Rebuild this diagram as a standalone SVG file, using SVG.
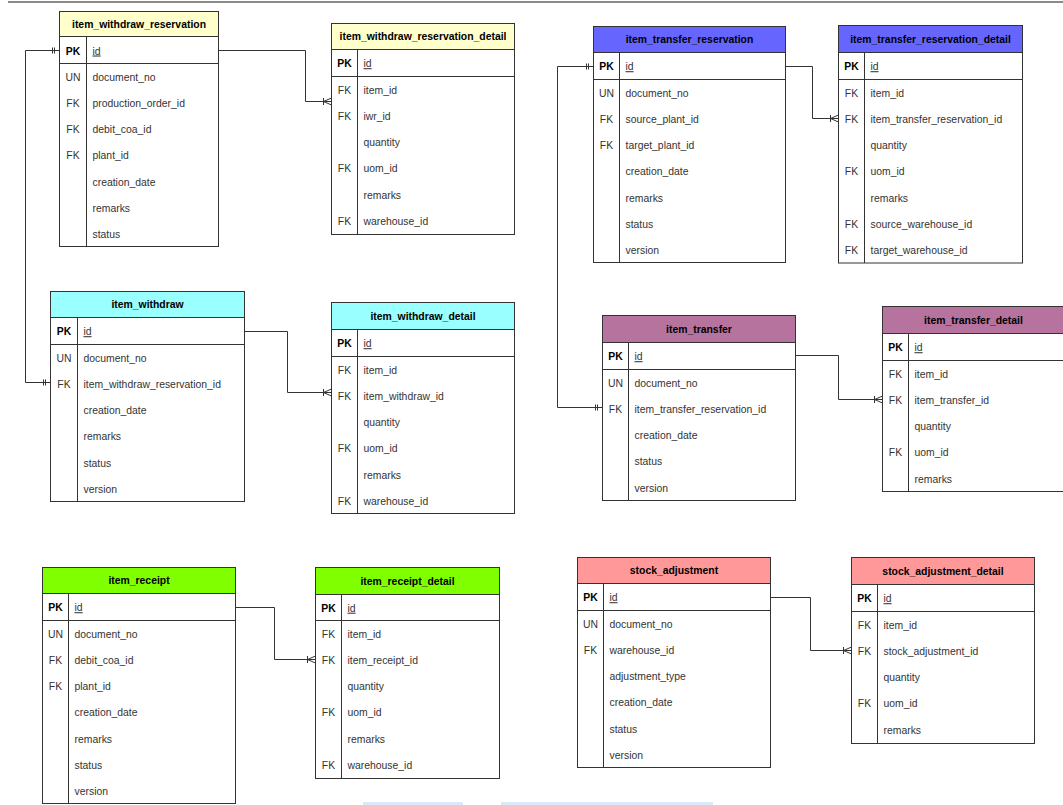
<svg xmlns="http://www.w3.org/2000/svg" width="1063" height="805" viewBox="0 0 1063 805">
<style>
.body{fill:#fff;stroke:#333;stroke-width:1}
.hdr{stroke:#333;stroke-width:1}
.sep{stroke:#333;stroke-width:1;fill:none}
text{font-family:"Liberation Sans",Arial,Helvetica,sans-serif;font-size:10.4px;fill:#333}
.h{font-weight:bold;fill:#000;text-anchor:middle}
.k{text-anchor:middle}
.pk{font-weight:bold;fill:#000}
.u{text-decoration:underline}
.conn{fill:none;stroke:#333;stroke-width:1}
.mk{fill:none;stroke:#333;stroke-width:1}
</style>
<defs>
<marker id="many" viewBox="0 0 12 10" markerWidth="12" markerHeight="10" refX="12" refY="5" orient="auto" markerUnits="userSpaceOnUse"><path class="mk" d="M12,1.5 L4,5 L12,8.5 M4,1.5 V8.5"/></marker>
<marker id="one" viewBox="0 0 10 10" markerWidth="10" markerHeight="10" refX="10" refY="5" orient="auto-start-reverse" markerUnits="userSpaceOnUse"><path class="mk" d="M3,2 V8 M5,2 V8"/></marker>
</defs>
<rect x="0" y="0" width="1063" height="805" fill="#fff"/>
<line x1="8" y1="2" x2="1063" y2="2" stroke="#8a8a8a" stroke-width="2"/>
<rect x="363" y="802" width="100" height="3" fill="#dbe8f8"/>
<rect x="501" y="802" width="212" height="3" fill="#dbe8f8"/>

<g id="connectors">
<path class="conn" d="M218.5,50.5 H305.5 V101.5 H331.5" marker-end="url(#many)"/>
<path class="conn" d="M59.5,50.5 H25.5 V382.5 H50.5" marker-start="url(#one)" marker-end="url(#one)"/>
<path class="conn" d="M244.5,331.5 H287.5 V392.5 H331.5" marker-end="url(#many)"/>
<path class="conn" d="M785.5,66.5 H812.5 V118.5 H838.5" marker-end="url(#many)"/>
<path class="conn" d="M593.5,66.5 H557.5 V407.5 H602.5" marker-start="url(#one)" marker-end="url(#one)"/>
<path class="conn" d="M795.5,355.5 H838.5 V399.5 H882.5" marker-end="url(#many)"/>
<path class="conn" d="M235.5,607.5 H274.5 V659.5 H315.5" marker-end="url(#many)"/>
<path class="conn" d="M770.5,597.5 H810.5 V650.5 H851.5" marker-end="url(#many)"/>
</g>

<g id="item_withdraw_reservation">
<rect class="body" x="59.5" y="11.5" width="159" height="235"/>
<rect class="hdr" x="59.5" y="11.5" width="159" height="25" fill="#ffffcc"/>
<path class="sep" d="M59.5,63.5 H218.5 M86.5,36.5 V246.5"/>
<text class="h" x="139" y="27.7">item_withdraw_reservation</text>
<text class="k pk" x="73" y="54.5">PK</text><text class="u" x="92.5" y="54.5">id</text>
<text class="k" x="73" y="80.7">UN</text><text x="92.5" y="80.7">document_no</text>
<text class="k" x="73" y="106.9">FK</text><text x="92.5" y="106.9">production_order_id</text>
<text class="k" x="73" y="133.1">FK</text><text x="92.5" y="133.1">debit_coa_id</text>
<text class="k" x="73" y="159.3">FK</text><text x="92.5" y="159.3">plant_id</text>
<text x="92.5" y="185.5">creation_date</text>
<text x="92.5" y="211.7">remarks</text>
<text x="92.5" y="237.9">status</text>
</g>

<g id="item_withdraw_reservation_detail">
<rect class="body" x="331.5" y="23.5" width="183" height="211"/>
<rect class="hdr" x="331.5" y="23.5" width="183" height="26" fill="#ffffcc"/>
<path class="sep" d="M331.5,76.5 H514.5 M357.5,49.5 V234.5"/>
<text class="h" x="423" y="40.2">item_withdraw_reservation_detail</text>
<text class="k pk" x="344.5" y="67.2">PK</text><text class="u" x="363.5" y="67.2">id</text>
<text class="k" x="344.5" y="93.7">FK</text><text x="363.5" y="93.7">item_id</text>
<text class="k" x="344.5" y="119.9">FK</text><text x="363.5" y="119.9">iwr_id</text>
<text x="363.5" y="146.1">quantity</text>
<text class="k" x="344.5" y="172.3">FK</text><text x="363.5" y="172.3">uom_id</text>
<text x="363.5" y="198.5">remarks</text>
<text class="k" x="344.5" y="224.7">FK</text><text x="363.5" y="224.7">warehouse_id</text>
</g>

<g id="item_transfer_reservation">
<rect class="body" x="593.5" y="26.5" width="192" height="236"/>
<rect class="hdr" x="593.5" y="26.5" width="192" height="26" fill="#6666ff"/>
<path class="sep" d="M593.5,79.5 H785.5 M619.5,52.5 V262.5"/>
<text class="h" x="689.5" y="43.2">item_transfer_reservation</text>
<text class="k pk" x="606.5" y="70.2">PK</text><text class="u" x="625.5" y="70.2">id</text>
<text class="k" x="606.5" y="96.7">UN</text><text x="625.5" y="96.7">document_no</text>
<text class="k" x="606.5" y="122.9">FK</text><text x="625.5" y="122.9">source_plant_id</text>
<text class="k" x="606.5" y="149.1">FK</text><text x="625.5" y="149.1">target_plant_id</text>
<text x="625.5" y="175.3">creation_date</text>
<text x="625.5" y="201.5">remarks</text>
<text x="625.5" y="227.7">status</text>
<text x="625.5" y="253.9">version</text>
</g>

<g id="item_transfer_reservation_detail">
<rect class="body" x="838.5" y="25.5" width="184" height="237.5"/>
<rect class="hdr" x="838.5" y="25.5" width="184" height="27" fill="#6666ff"/>
<path class="sep" d="M838.5,79.5 H1022.5 M864.5,52.5 V263"/>
<text class="h" x="930.5" y="42.7">item_transfer_reservation_detail</text>
<text class="k pk" x="851.5" y="70.2">PK</text><text class="u" x="870.5" y="70.2">id</text>
<text class="k" x="851.5" y="96.7">FK</text><text x="870.5" y="96.7">item_id</text>
<text class="k" x="851.5" y="122.9">FK</text><text x="870.5" y="122.9">item_transfer_reservation_id</text>
<text x="870.5" y="149.1">quantity</text>
<text class="k" x="851.5" y="175.3">FK</text><text x="870.5" y="175.3">uom_id</text>
<text x="870.5" y="201.5">remarks</text>
<text class="k" x="851.5" y="227.7">FK</text><text x="870.5" y="227.7">source_warehouse_id</text>
<text class="k" x="851.5" y="253.9">FK</text><text x="870.5" y="253.9">target_warehouse_id</text>
</g>

<g id="item_withdraw">
<rect class="body" x="50.5" y="291.5" width="194" height="210"/>
<rect class="hdr" x="50.5" y="291.5" width="194" height="26" fill="#99ffff"/>
<path class="sep" d="M50.5,344.5 H244.5 M77.5,317.5 V501.5"/>
<text class="h" x="147.5" y="308.2">item_withdraw</text>
<text class="k pk" x="64" y="335.2">PK</text><text class="u" x="83.5" y="335.2">id</text>
<text class="k" x="64" y="361.7">UN</text><text x="83.5" y="361.7">document_no</text>
<text class="k" x="64" y="387.9">FK</text><text x="83.5" y="387.9">item_withdraw_reservation_id</text>
<text x="83.5" y="414.1">creation_date</text>
<text x="83.5" y="440.3">remarks</text>
<text x="83.5" y="466.5">status</text>
<text x="83.5" y="492.7">version</text>
</g>

<g id="item_withdraw_detail">
<rect class="body" x="331.5" y="302.5" width="183" height="211"/>
<rect class="hdr" x="331.5" y="302.5" width="183" height="27" fill="#99ffff"/>
<path class="sep" d="M331.5,356.5 H514.5 M357.5,329.5 V513.5"/>
<text class="h" x="423" y="319.7">item_withdraw_detail</text>
<text class="k pk" x="344.5" y="347.2">PK</text><text class="u" x="363.5" y="347.2">id</text>
<text class="k" x="344.5" y="373.7">FK</text><text x="363.5" y="373.7">item_id</text>
<text class="k" x="344.5" y="399.9">FK</text><text x="363.5" y="399.9">item_withdraw_id</text>
<text x="363.5" y="426.1">quantity</text>
<text class="k" x="344.5" y="452.3">FK</text><text x="363.5" y="452.3">uom_id</text>
<text x="363.5" y="478.5">remarks</text>
<text class="k" x="344.5" y="504.7">FK</text><text x="363.5" y="504.7">warehouse_id</text>
</g>

<g id="item_transfer">
<rect class="body" x="602.5" y="315.5" width="193" height="185"/>
<rect class="hdr" x="602.5" y="315.5" width="193" height="27" fill="#b5739d"/>
<path class="sep" d="M602.5,369.5 H795.5 M628.5,342.5 V500.5"/>
<text class="h" x="699" y="332.7">item_transfer</text>
<text class="k pk" x="615.5" y="360.2">PK</text><text class="u" x="634.5" y="360.2">id</text>
<text class="k" x="615.5" y="386.7">UN</text><text x="634.5" y="386.7">document_no</text>
<text class="k" x="615.5" y="412.9">FK</text><text x="634.5" y="412.9">item_transfer_reservation_id</text>
<text x="634.5" y="439.1">creation_date</text>
<text x="634.5" y="465.3">status</text>
<text x="634.5" y="491.5">version</text>
</g>

<g id="item_transfer_detail">
<rect class="body" x="882.5" y="306.5" width="182" height="185"/>
<rect class="hdr" x="882.5" y="306.5" width="182" height="27" fill="#b5739d"/>
<path class="sep" d="M882.5,360.5 H1064.5 M908.5,333.5 V491.5"/>
<text class="h" x="973.5" y="323.7">item_transfer_detail</text>
<text class="k pk" x="895.5" y="351.2">PK</text><text class="u" x="914.5" y="351.2">id</text>
<text class="k" x="895.5" y="377.7">FK</text><text x="914.5" y="377.7">item_id</text>
<text class="k" x="895.5" y="403.9">FK</text><text x="914.5" y="403.9">item_transfer_id</text>
<text x="914.5" y="430.1">quantity</text>
<text class="k" x="895.5" y="456.3">FK</text><text x="914.5" y="456.3">uom_id</text>
<text x="914.5" y="482.5">remarks</text>
</g>

<g id="item_receipt">
<rect class="body" x="42.5" y="567.5" width="193" height="236"/>
<rect class="hdr" x="42.5" y="567.5" width="193" height="26" fill="#80ff00"/>
<path class="sep" d="M42.5,620.5 H235.5 M68.5,593.5 V803.5"/>
<text class="h" x="139" y="584.2">item_receipt</text>
<text class="k pk" x="55.5" y="611.2">PK</text><text class="u" x="74.5" y="611.2">id</text>
<text class="k" x="55.5" y="637.7">UN</text><text x="74.5" y="637.7">document_no</text>
<text class="k" x="55.5" y="663.9">FK</text><text x="74.5" y="663.9">debit_coa_id</text>
<text class="k" x="55.5" y="690.1">FK</text><text x="74.5" y="690.1">plant_id</text>
<text x="74.5" y="716.3">creation_date</text>
<text x="74.5" y="742.5">remarks</text>
<text x="74.5" y="768.7">status</text>
<text x="74.5" y="794.9">version</text>
</g>

<g id="item_receipt_detail">
<rect class="body" x="315.5" y="567.5" width="184" height="211"/>
<rect class="hdr" x="315.5" y="567.5" width="184" height="27" fill="#80ff00"/>
<path class="sep" d="M315.5,620.5 H499.5 M341.5,594.5 V778.5"/>
<text class="h" x="407.5" y="584.7">item_receipt_detail</text>
<text class="k pk" x="328.5" y="611.7">PK</text><text class="u" x="347.5" y="611.7">id</text>
<text class="k" x="328.5" y="637.7">FK</text><text x="347.5" y="637.7">item_id</text>
<text class="k" x="328.5" y="663.9">FK</text><text x="347.5" y="663.9">item_receipt_id</text>
<text x="347.5" y="690.1">quantity</text>
<text class="k" x="328.5" y="716.3">FK</text><text x="347.5" y="716.3">uom_id</text>
<text x="347.5" y="742.5">remarks</text>
<text class="k" x="328.5" y="768.7">FK</text><text x="347.5" y="768.7">warehouse_id</text>
</g>

<g id="stock_adjustment">
<rect class="body" x="577.5" y="557.5" width="193" height="210"/>
<rect class="hdr" x="577.5" y="557.5" width="193" height="26" fill="#ff9999"/>
<path class="sep" d="M577.5,610.5 H770.5 M603.5,583.5 V767.5"/>
<text class="h" x="674" y="574.2">stock_adjustment</text>
<text class="k pk" x="590.5" y="601.2">PK</text><text class="u" x="609.5" y="601.2">id</text>
<text class="k" x="590.5" y="627.7">UN</text><text x="609.5" y="627.7">document_no</text>
<text class="k" x="590.5" y="653.9">FK</text><text x="609.5" y="653.9">warehouse_id</text>
<text x="609.5" y="680.1">adjustment_type</text>
<text x="609.5" y="706.3">creation_date</text>
<text x="609.5" y="732.5">status</text>
<text x="609.5" y="758.7">version</text>
</g>

<g id="stock_adjustment_detail">
<rect class="body" x="851.5" y="557.5" width="183" height="186"/>
<rect class="hdr" x="851.5" y="557.5" width="183" height="27" fill="#ff9999"/>
<path class="sep" d="M851.5,611.5 H1034.5 M877.5,584.5 V743.5"/>
<text class="h" x="943" y="574.7">stock_adjustment_detail</text>
<text class="k pk" x="864.5" y="602.2">PK</text><text class="u" x="883.5" y="602.2">id</text>
<text class="k" x="864.5" y="628.7">FK</text><text x="883.5" y="628.7">item_id</text>
<text class="k" x="864.5" y="654.9">FK</text><text x="883.5" y="654.9">stock_adjustment_id</text>
<text x="883.5" y="681.1">quantity</text>
<text class="k" x="864.5" y="707.3">FK</text><text x="883.5" y="707.3">uom_id</text>
<text x="883.5" y="733.5">remarks</text>
</g>
</svg>
